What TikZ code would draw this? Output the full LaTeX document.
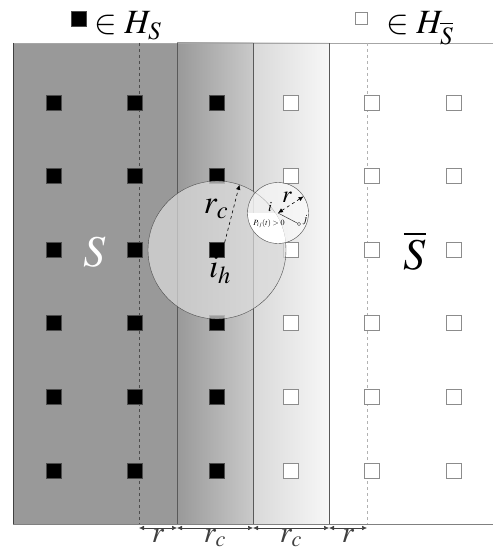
\documentclass[tikz,border=0pt]{standalone}
\usepackage{mathptmx}
\usetikzlibrary{arrows.meta,calc}

\newcommand{\fs}[1]{\fontsize{#1}{#1}\selectfont}

\begin{document}
\begin{tikzpicture}[x=1pt, y=-1pt, >={Latex[length=5pt,width=4.5pt]},
	blk/.style={draw=black!70, fill=black, minimum size=15pt, inner sep=0pt},
	wht/.style={draw=black!45, fill=white, minimum size=15pt, inner sep=0pt},
	dim/.style={<->, black!75, line width=0.5pt},
	every node/.style={inner sep=1pt}]
	\useasboundingbox (0,0) rectangle (493,559);
	% background bands
	\fill[black!40] (13,43) rectangle (177,524);
	\shade[left color=black!40, right color=black!21] (177,43) rectangle (253,524);
	\shade[left color=black!15, right color=black!3] (253,43) rectangle (329,524);
	\draw[black!35] (13,43) -- (493,43);
	\draw[black!50] (13,524) -- (493,524);
	\draw[black!75] (13,43) -- (13,524);
	\foreach \x in {177,253,329} {\draw[black!65] (\x,43) -- (\x,524);}
	\draw[black!70, dashed, line width=0.5pt] (139,43) -- (139,524);
	\draw[black!30, dashed, line width=0.6pt] (367,43) -- (367,524);
	% grid of hosts
	\foreach \cx [count=\k] in {54,135,217,291,372,454} {
		\foreach \ry [count=\j] in {103,176,250,323,397,471} {
			\ifnum\k<4 \node[blk] (sq\k\j) at (\cx,\ry) {};
			\else \node[wht] (sq\k\j) at (\cx,\ry) {};\fi
		}
	}
	% ranges
	\coordinate (hc) at (217,250);
	\coordinate (ic) at (278,213);
	\draw[black!70, fill=white!86!black, fill opacity=0.72] (hc) circle (69pt);
	\fill[white, fill opacity=0.55] (ic) circle (30.5pt);
	\begin{scope}
		\clip (ic) circle (30.5pt);
		\clip (hc) circle (69pt);
		\fill[white] (245,213) rectangle (312,246);
	\end{scope}
	\draw[black!70] (ic) circle (30.5pt);
	\node[blk] (ih) at (hc) {};
	\coordinate (rcend) at ($(hc)+(71:69pt)$);
	\coordinate (rend) at ($(ic)+(33:30.5pt)$);
	\coordinate (jp) at (299,224);
	\draw[->, dashed, line width=0.6pt] (ih.north east) -- (rcend);
	\draw[<->, dashed, line width=0.6pt] (ic) -- (rend);
	\draw[black!80, line width=0.5pt] (ic) -- (jp);
	\node[circle, draw=black!80, fill=white, inner sep=1.1pt] (jdot) at (jp) {};
	% labels
	\node[font=\fs{33}] (rclab) at (216,209) {$r_c$};
	\node[font=\fs{33}] (ihlab) at (220,270) {$i_h$};
	\node[font=\fs{24}] (rlab) at (287,197) {$r$};
	\node[font=\fs{14}] (ilab) at (270,207) {$i$};
	\node[font=\fs{8}] (plab) at (269,224) {$P_{ij}(t)>0$};
	\node[font=\fs{11}] (jlab) at (305,220) {$j$};
	\node[white, font=\fs{44}] (slab) at (95,252) {$S$};
	\node[font=\fs{44}] (sbar) at (415,251) {$\overline{S}$};
	% legend
	\node[blk] (keys) at (78.5,18.5) {};
	\node[wht, minimum size=12pt] (keyn) at (361.5,18) {};
	\node[anchor=base west, font=\fs{34}] (hs) at (93,34) {$\in H_S$};
	\node[anchor=base west, font=\fs{34}] (hn) at (385,34) {$\in H_{\overline{S}}$};
	% widths
	\foreach \x [count=\n] in {139,177,253,329,367} {\coordinate (d\n) at (\x,528);}
	\draw[dim] (d1) -- node[below, font=\fs{30}] (w1) {$r$} (d2);
	\draw[dim] (d2) -- node[below, font=\fs{30}] (w2) {$r_c$} (d3);
	\draw[dim] (d3) -- node[below, font=\fs{30}] (w3) {$r_c$} (d4);
	\draw[dim] (d4) -- node[below, font=\fs{30}] (w4) {$r$} (d5);
\end{tikzpicture}
\end{document}
